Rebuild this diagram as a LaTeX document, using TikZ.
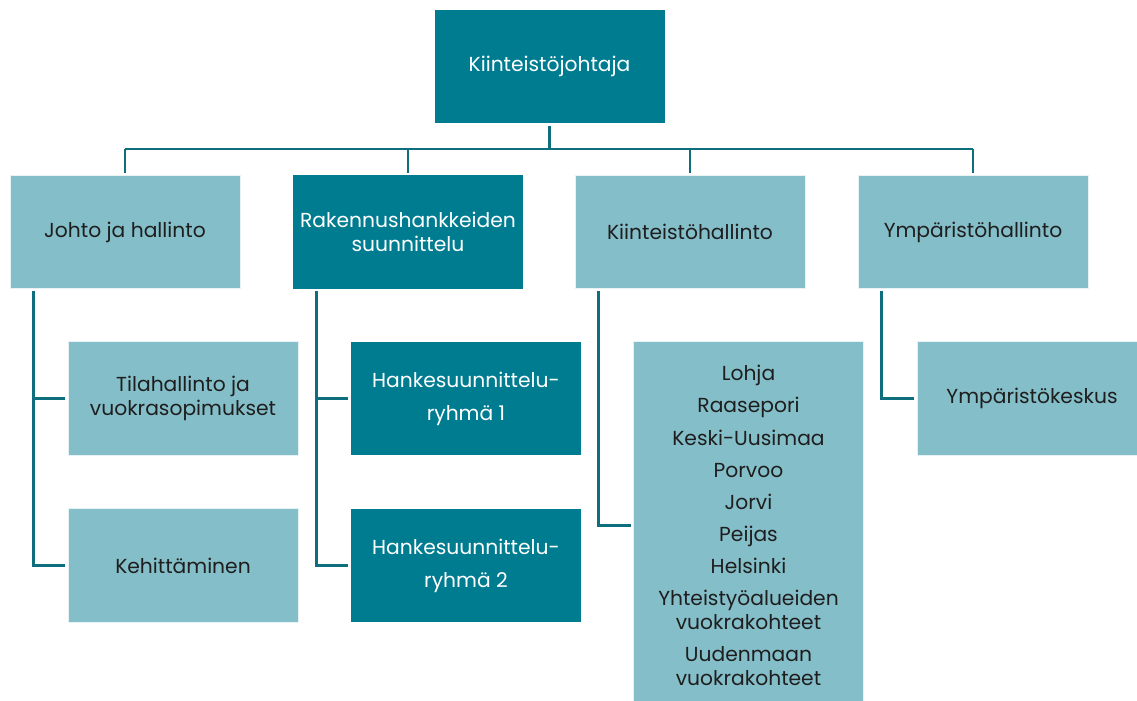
\documentclass[tikz,border=0pt]{standalone}
\usepackage{fontspec}
\setmainfont{Poppins}
\definecolor{tealdark}{RGB}{0,124,145}
\definecolor{teallight}{RGB}{132,190,201}
\definecolor{tealline}{RGB}{14,110,126}
\definecolor{txtdark}{RGB}{30,30,30}
\tikzset{every picture/.style={line width=0.75pt}}
\tikzset{
  box/.style={rectangle, inner sep=2pt, outer sep=2pt, minimum width=172.5pt, minimum height=85pt, align=center, font=\fontsize{15.2}{17.8}\selectfont},
  boxdark/.style={box, fill=tealdark, text=white},
  boxlight/.style={box, fill=teallight, draw=white!80!teallight, line width=0.6pt, text=txtdark},
  conn/.style={draw=tealline, line width=2.2pt}
}
\begin{document}
\begin{tikzpicture}[x=0.75pt,y=0.75pt,yscale=-1]
\useasboundingbox (0,0) rectangle (1137,700);

% Top
\node[boxdark] (top) at (549.5,66.5) {Kiinteistöjohtaja};

% Level 2
\node[boxlight] (johto) at (125,232) {Johto ja hallinto};
\node[boxdark] (rak) at (408,232) {Rakennushankkeiden\\suunnittelu};
\node[boxlight] (kiint) at (690,232) {Kiinteistöhallinto};
\node[boxlight] (ymp) at (973,232) {Ympäristöhallinto};

% Level 3
\node[boxlight] (tila) at (183,398.5) {Tilahallinto ja\\vuokrasopimukset};
\node[boxlight] (kehit) at (183,565.5) {Kehittäminen};
\node[boxdark] (hanke1) at (466,398.5) {Hankesuunnittelu-\\[7pt]ryhmä 1};
\node[boxdark] (hanke2) at (466,565.5) {Hankesuunnittelu-\\[7pt]ryhmä 2};
\node[boxlight, minimum height=276pt] (alueet) at (748.5,525.5) {Lohja\\[6.3pt]Raasepori\\[6.3pt]Keski-Uusimaa\\[6.3pt]Porvoo\\[6.3pt]Jorvi\\[6.3pt]Peijas\\[6.3pt]Helsinki\\[6.3pt]Yhteistyöalueiden\\vuokrakohteet\\[6.3pt]Uudenmaan\\vuokrakohteet};
\node[boxlight] (ympk) at (1032,398.5) {Ympäristökeskus};

% Connectors
\coordinate (bar) at (549.5,149);
\draw[conn] (top.south) -- (bar);
\draw[conn] (bar -| johto) -- (bar -| ymp);
\foreach \n in {johto,rak,kiint,ymp}
  \draw[conn] (bar -| \n) -- (\n.north);

\draw[conn] ([xshift=19.5pt]johto.south west) |- (tila.west);
\draw[conn] ([xshift=19.5pt]johto.south west) |- (kehit.west);
\draw[conn] ([xshift=19.5pt]rak.south west) |- (hanke1.west);
\draw[conn] ([xshift=19.5pt]rak.south west) |- (hanke2.west);
\draw[conn] ([xshift=19.5pt]kiint.south west) |- (alueet.west);
\draw[conn] ([xshift=19.5pt]ymp.south west) |- (ympk.west);

\end{tikzpicture}
\end{document}
